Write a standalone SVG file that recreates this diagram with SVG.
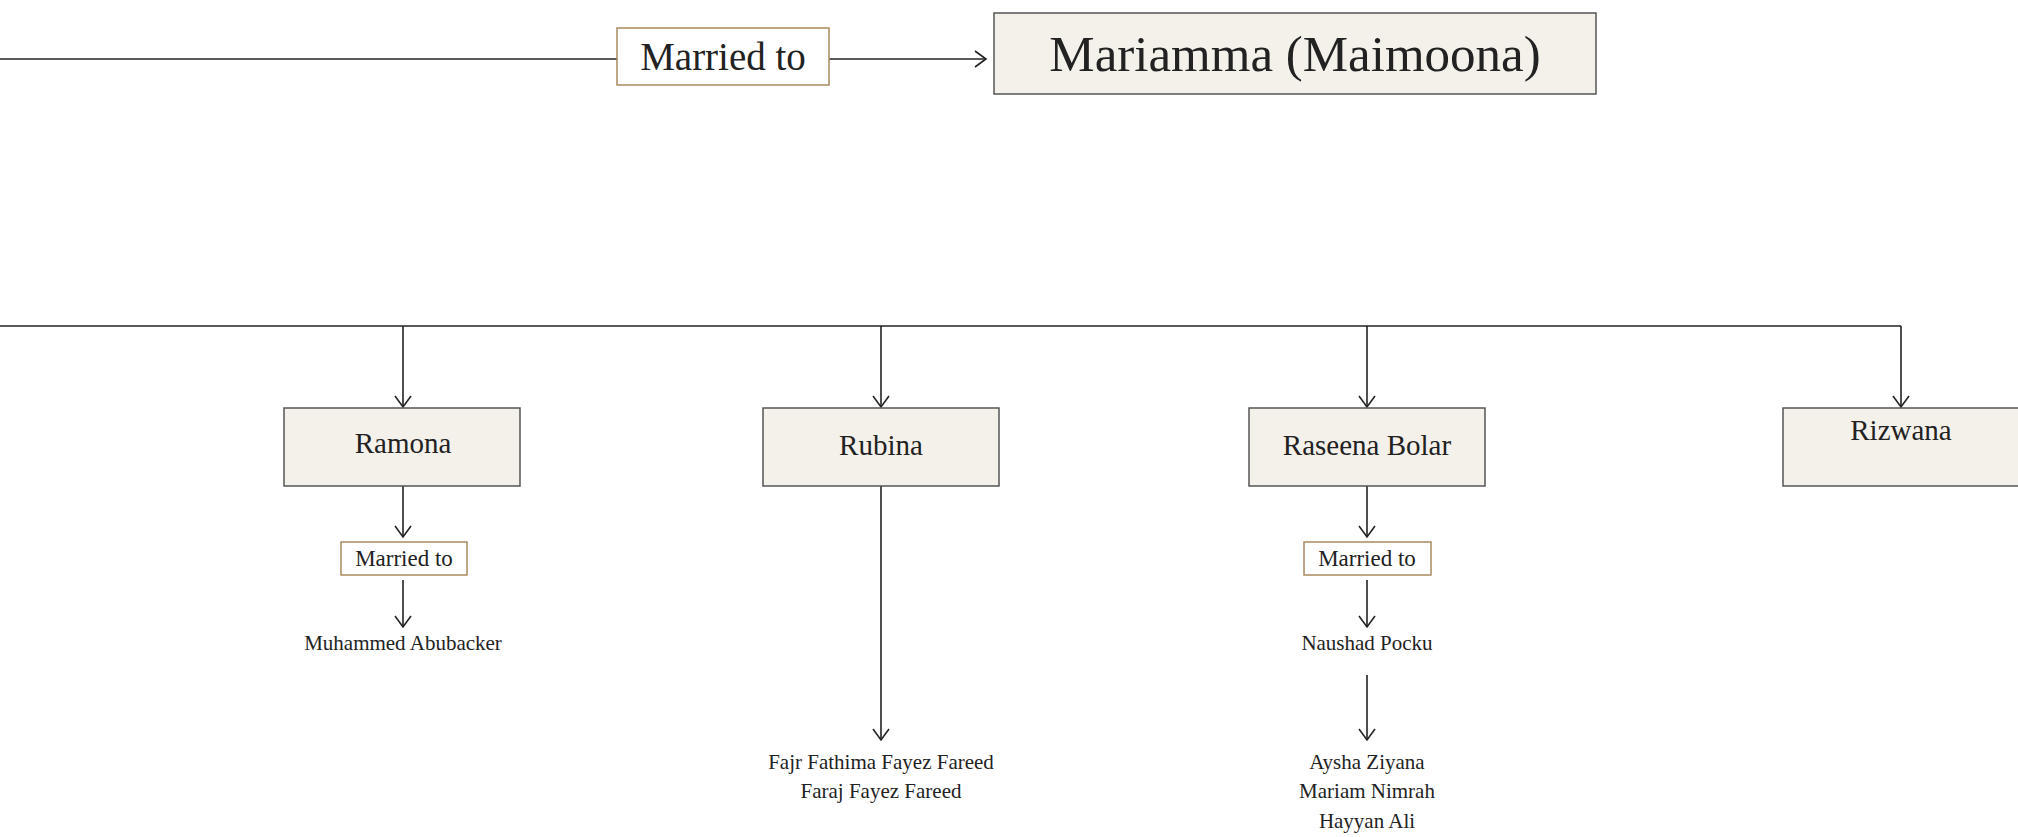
<svg xmlns="http://www.w3.org/2000/svg" width="2018" height="837" viewBox="0 0 2018 837">
<defs>
<style>
.person rect{fill:#f4f1eb;stroke:#555;stroke-width:1.5}
.rel rect{fill:#fff;stroke:#a88a5e;stroke-width:1.5}
text{font-family:"Liberation Serif","Times New Roman",serif;fill:#222;text-anchor:middle}
.conn line,.conn polyline{stroke:#222;stroke-width:1.6;fill:none}
.arr{marker-end:url(#arrow)}
</style>
<marker id="arrow" viewBox="-13 -10 15 20" refX="0" refY="0" markerWidth="15" markerHeight="20" markerUnits="userSpaceOnUse" orient="auto">
<path d="M-11,-8 L0,0 L-11,8" fill="none" stroke="#222" stroke-width="1.6"/>
</marker>
</defs>
<rect width="2018" height="837" fill="#fff"/>
<g class="conn" id="connectors">
<line x1="0" y1="59" x2="617" y2="59"/>
<line class="arr" x1="829" y1="59" x2="986" y2="59"/>
<line x1="0" y1="326" x2="1901" y2="326"/>
<line class="arr" x1="403" y1="326" x2="403" y2="407"/>
<line class="arr" x1="881" y1="326" x2="881" y2="407"/>
<line class="arr" x1="1367" y1="326" x2="1367" y2="407"/>
<line class="arr" x1="1901" y1="326" x2="1901" y2="407"/>
<line class="arr" x1="403" y1="486" x2="403" y2="537"/>
<line class="arr" x1="403" y1="580" x2="403" y2="627"/>
<line class="arr" x1="881" y1="486" x2="881" y2="740"/>
<line class="arr" x1="1367" y1="486" x2="1367" y2="537"/>
<line class="arr" x1="1367" y1="580" x2="1367" y2="627"/>
<line class="arr" x1="1367" y1="675" x2="1367" y2="740"/>
</g>
<g class="rel" id="married-top">
<rect x="617" y="28" width="212" height="57"/>
<text x="723" y="70" font-size="39">Married to</text>
</g>
<g class="person" id="mariamma">
<rect x="994" y="13" width="602" height="81"/>
<text x="1295" y="71" font-size="51">Mariamma (Maimoona)</text>
</g>
<g class="person" id="ramona">
<rect x="284" y="408" width="236" height="78"/>
<text x="403" y="453" font-size="29">Ramona</text>
</g>
<g class="person" id="rubina">
<rect x="763" y="408" width="236" height="78"/>
<text x="881" y="455" font-size="29">Rubina</text>
</g>
<g class="person" id="raseena">
<rect x="1249" y="408" width="236" height="78"/>
<text x="1367" y="455" font-size="29">Raseena Bolar</text>
</g>
<g class="person" id="rizwana">
<rect x="1783" y="408" width="240" height="78"/>
<text x="1901" y="440" font-size="29">Rizwana</text>
</g>
<g class="rel" id="married-ramona">
<rect x="341" y="542" width="126" height="33"/>
<text x="404" y="566" font-size="23">Married to</text>
</g>
<g class="rel" id="married-raseena">
<rect x="1304" y="542" width="127" height="33"/>
<text x="1367" y="566" font-size="23">Married to</text>
</g>
<g id="muhammed">
<text x="403" y="650" font-size="21">Muhammed Abubacker</text>
</g>
<g id="naushad">
<text x="1367" y="650" font-size="21">Naushad Pocku</text>
</g>
<g id="rubina-children">
<text x="881" y="769" font-size="21">Fajr Fathima Fayez Fareed</text>
<text x="881" y="798" font-size="21">Faraj Fayez Fareed</text>
</g>
<g id="raseena-children">
<text x="1367" y="769" font-size="21">Aysha Ziyana</text>
<text x="1367" y="798" font-size="21">Mariam Nimrah</text>
<text x="1367" y="828" font-size="21">Hayyan Ali</text>
</g>
</svg>
